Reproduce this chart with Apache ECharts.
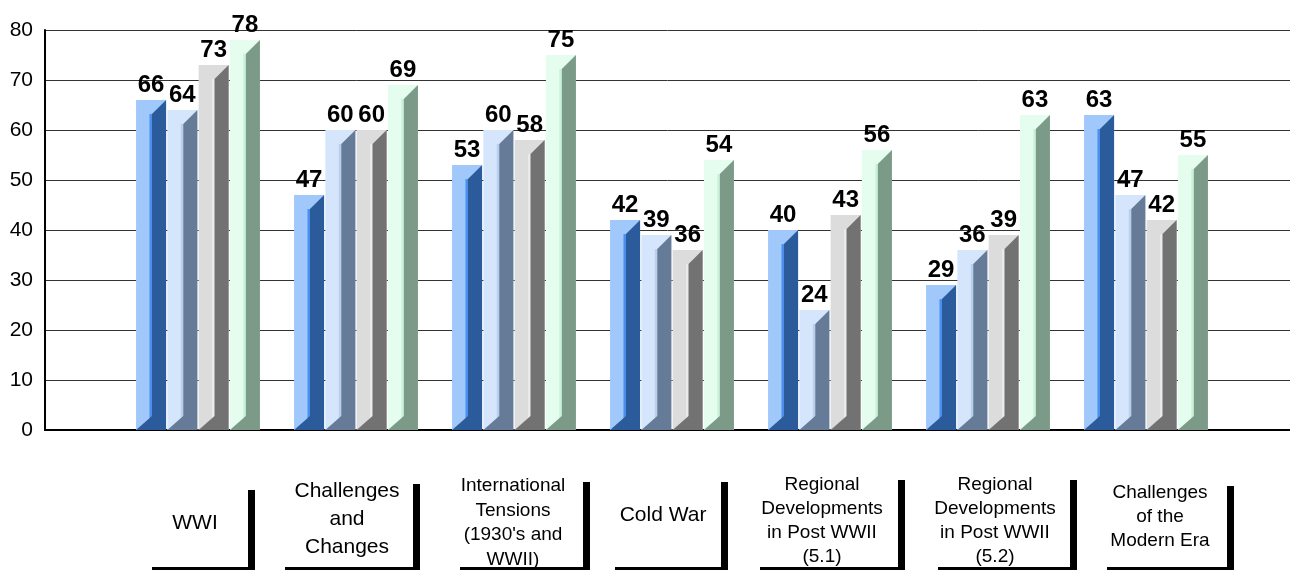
<!DOCTYPE html>
<html>
<head>
<meta charset="utf-8">
<script src="https://cdn.jsdelivr.net/npm/echarts@6/dist/echarts.min.js"></script>
<style>
  html, body { margin: 0; padding: 0; background: #fff; }
  #chart { width: 1290px; height: 571px; }
</style>
</head>
<body>
<div id="chart"></div>
<script>
// ---- data ----
const categories = [
  'WWI',
  'Challenges\nand\nChanges',
  "International\nTensions\n(1930's and\nWWII)",
  'Cold War',
  'Regional\nDevelopments\nin Post WWII\n(5.1)',
  'Regional\nDevelopments\nin Post WWII\n(5.2)',
  'Challenges\nof the\nModern Era'
];
const series1 = [66, 47, 53, 42, 40, 29, 63];
const series2 = [64, 60, 60, 39, 24, 36, 47];
const series3 = [73, 60, 58, 36, 43, 39, 42];
const series4 = [78, 69, 75, 54, 56, 63, 55];
const yMin = 0, yMax = 80, yInterval = 10;

// ---- styling / layout (not data) ----
const FONT = '"Liberation Sans", Arial, sans-serif';
const barStyles = [
  { light: '#a0c8fa', strip: '#4b8ff0', dark: '#2b5b9b' },
  { light: '#d5e6fc', strip: '#b9cfec', dark: '#667b98' },
  { light: '#dcdcdc', strip: '#ebebeb', dark: '#727272' },
  { light: '#e4fdee', strip: '#c9f2d8', dark: '#7b9a87' }
];
// per category label box: [left, right, top (px below axis), text dx, text dy, font size, line height]
const labelBoxLayout = [
  [-46, 57, 60, -3, 93, 21, 28],
  [-71, 64, 54, -9, 89, 21, 28],
  [-54, 76, 52, -1, 93, 19, 24.5],
  [-57, 56, 52, -9, 85, 21, 28],
  [-70, 75, 50, -8, 91, 19, 24],
  [-50, 89, 50, 7, 91, 19, 24],
  [-39, 88, 56, 14, 87, 19, 24]
];

function barSeries(idx, values) {
  const st = barStyles[idx];
  return {
    type: 'custom',
    name: 'Series ' + (idx + 1),
    xAxisIndex: 1,
    yAxisIndex: 1,
    data: values.map((v, i) => [i, v]),
    renderItem: function (params, api) {
      const i = api.value(0), v = api.value(1);
      const top = api.coord([i, v]);
      const base = api.coord([i, 0]);
      const band = api.size([1, 0])[0];
      const step = band * 0.198;
      const w = band * 0.19;
      const cx = top[0] + (idx - 1.5) * step;
      const x0 = cx - w / 2, x1 = cx + w / 2;
      const T = top[1], B = base[1];
      const xm = x0 + w * 0.53;
      const d = Math.min(x1 - xm, (B - T) / 2);
      return {
        type: 'group',
        children: [
          { type: 'rect', shape: { x: x0, y: T, width: w, height: B - T }, style: { fill: st.light } },
          { type: 'rect', shape: { x: xm - 2.5, y: T + d, width: 2.5, height: Math.max(0, B - T - d) }, style: { fill: st.strip } },
          { type: 'polygon', shape: { points: [[xm, T + d], [x1, T], [x1, B], [x0, B], [xm, B - d]] }, style: { fill: st.dark } },
          { type: 'text', style: { text: String(v), x: cx, y: T - 3, align: 'center', verticalAlign: 'bottom',
              font: 'bold 24px ' + FONT, fill: '#000' } }
        ]
      };
    }
  };
}

const labelSeries = {
  type: 'custom',
  xAxisIndex: 1,
  yAxisIndex: 1,
  silent: true,
  data: categories.map((c, i) => [i, 0]),
  renderItem: function (params, api) {
    const i = api.value(0);
    const p = api.coord([i, 0]);
    const L = labelBoxLayout[i];
    const cx = p[0], by = p[1];
    const bottomY = by + 137;
    return {
      type: 'group',
      children: [
        { type: 'rect', shape: { x: cx + L[0], y: bottomY, width: L[1] - L[0], height: 3 }, style: { fill: '#000' } },
        { type: 'rect', shape: { x: cx + L[1] - 7, y: by + L[2], width: 7, height: bottomY + 3 - (by + L[2]) }, style: { fill: '#000' } },
        { type: 'text', style: { text: categories[i], x: cx + L[3], y: by + L[4], align: 'center', verticalAlign: 'middle',
            font: L[5] + 'px ' + FONT, lineHeight: L[6], fill: '#000' } }
      ]
    };
  }
};

const chart = echarts.init(document.getElementById('chart'), null, { renderer: 'canvas' });
chart.setOption({
  animation: false,
  backgroundColor: '#fff',
  grid: [
    { left: 45, right: 0, top: 30, bottom: 141 },
    { left: 119, width: 1106, top: 30, bottom: 141 }
  ],
  xAxis: [
    { type: 'value', gridIndex: 0, min: 0, max: 1, axisLabel: { show: false }, axisTick: { show: false },
      splitLine: { show: false }, axisLine: { show: true, lineStyle: { color: '#000', width: 2 } } },
    { type: 'category', gridIndex: 1, data: categories, show: false }
  ],
  yAxis: [
    { type: 'value', gridIndex: 0, min: yMin, max: yMax, interval: yInterval,
      axisLine: { show: true, lineStyle: { color: '#000', width: 2 } },
      axisTick: { show: false },
      axisLabel: { fontSize: 21, color: '#000', fontFamily: FONT, margin: 12 },
      splitLine: { show: true, lineStyle: { color: '#333', width: 1 } } },
    { type: 'value', gridIndex: 1, min: yMin, max: yMax, interval: yInterval, show: false }
  ],
  series: [
    barSeries(0, series1),
    barSeries(1, series2),
    barSeries(2, series3),
    barSeries(3, series4),
    labelSeries
  ]
});
</script>
</body>
</html>
